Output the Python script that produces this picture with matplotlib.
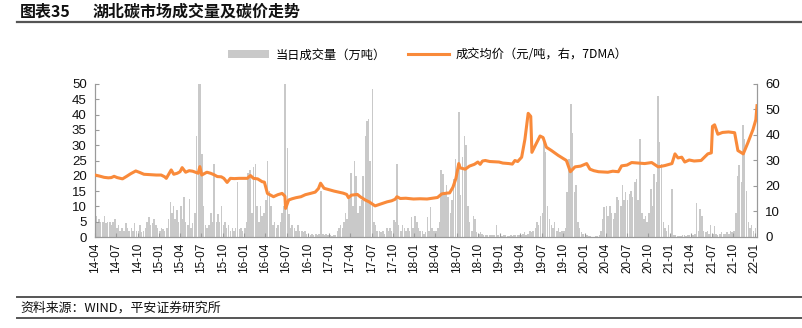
import matplotlib
matplotlib.use("Agg")
import matplotlib.pyplot as plt
from matplotlib.patches import Patch
from matplotlib.lines import Line2D
import numpy as np
import pandas as pd

plt.rcParams['font.family'] = ['Liberation Sans', 'Noto Sans CJK SC', 'DejaVu Sans']

# ---------------- data ----------------
title_label = "图表35"
title_text = "湖北碳市场成交量及碳价走势"
source_text = "资料来源：WIND，平安证券研究所"
legend_volume = "当日成交量（万吨）"
legend_price = "成交均价（元/吨，右，7DMA）"

# weekly traded volume (10k tonnes), 4 values per month, Apr 2014 - Jan 2022
vol_2014 = [7, 5, 6, 5,  5, 7, 4.5, 5,  5, 4, 5, 6,  3, 4, 2, 3,  2, 4.5, 3, 2,
            3, 2, 4.5, 2,  2, 4, 1.5, 2,  3, 5, 6.5, 4,  4.5, 6, 4, 3]
vol_2015 = [2, 3, 2.5, 2,  3, 6, 11.4, 8,  10, 6, 8.7, 5,  10, 6, 13, 5,  4, 12.5, 3, 4.5,
            8, 33, 60, 55,  27, 10, 4, 3,  4, 8, 5, 24,  5, 7.6, 5, 10,
            4, 5, 3, 4,  2, 3, 2, 3,  18, 2.5, 3, 2]
vol_2016 = [3, 5, 21, 21.8,  8, 22.9, 24, 10,  5, 10, 7, 8,  12, 25, 15, 10,  4, 5, 3, 4,
            5, 8, 10, 60,  29, 7.6, 3, 4,  3, 2, 4, 2,  2, 1.5, 2, 1,
            1, 0.8, 1, 0.5,  1, 0.5, 1, 15,  1, 0.5, 1, 0.5]
vol_2017 = [0.5, 0.3, 0.5, 0.5,  2, 3, 4, 3,  5, 8, 6, 12.5,  21, 10, 24.7, 20,
            8, 10, 12, 20,  33, 38, 38.7, 25,  48.5, 5, 4, 2,  2, 1.5, 2, 1,
            3, 2, 3, 2,  5.5, 5, 24, 4,  2, 4, 3, 2,  3, 2, 6.6, 3]
vol_2018 = [7, 5, 3, 2,  2, 1, 1.5, 6.5,  2, 9.9, 3, 2,  2, 3, 5, 22,  20.7, 14.7, 17, 13,
            8, 12, 19, 25.6,  20, 41, 13.6, 26,  33, 30, 10, 5,  2, 7, 6, 1.5,
            1, 1.5, 1, 0.8,  0.5, 0.8, 0.5, 0.5,  0.5, 0.5, 3.8, 0.5]
vol_2019 = [0.5, 0.3, 0.5, 0.5,  0.3, 0.2, 0.5, 0.3,  0.5, 0.5, 0.8, 0.5,  0.5, 1, 1.5, 0.8,
            1, 2, 1.5, 2,  3, 5, 4, 7,  8, 32, 27.8, 10,  6, 4, 3, 5,  2, 3, 1.5, 2,
            2, 3, 14.7, 25.6,  43.6, 34, 14.7, 17,  5, 3, 1.5, 1]
vol_2020 = [0.5, 0.5, 0.3, 0.2,  0.1, 0.1, 0.2, 0.3,  0.5, 2, 6, 9.8,  10, 7, 10, 8,
            6, 8, 13, 12,  10, 17, 12, 14.7,  12, 14, 15, 13,  18, 19, 12, 32,
            8, 6, 7, 5,  8, 15.8, 10, 20.7,  18, 46, 31, 24,  5, 3, 2, 4]
vol_2021 = [1, 15.8, 0.8, 0.5,  0.3, 0.2, 0.3, 0.5,  0.5, 0.3, 0.5, 0.5,  0.5, 0.8, 1, 11,
            2, 9.3, 7, 2,  1.5, 2, 1, 3.8,  1, 3.5, 1, 0.8,  1, 1.5, 1, 1,
            1.5, 1, 2, 1.5,  2, 8, 20, 23.4,  18, 36.5, 32, 15,  5, 3, 4, 2]
vol_2022 = [3, 4]

price_dates = [
    "2014-04-01", "2014-04-20", "2014-05-10", "2014-05-28", "2014-06-10", "2014-06-22",
    "2014-07-05", "2014-07-28", "2014-08-15", "2014-09-01", "2014-09-23", "2014-10-10",
    "2014-10-28", "2014-11-15", "2014-12-01", "2014-12-20", "2015-01-10", "2015-01-25",
    "2015-02-01", "2015-02-22", "2015-03-05", "2015-03-20", "2015-04-01", "2015-04-10",
    "2015-04-25", "2015-05-10", "2015-05-25", "2015-06-06", "2015-06-18", "2015-06-25",
    "2015-07-03", "2015-07-25", "2015-08-10", "2015-08-25", "2015-09-08", "2015-09-25",
    "2015-10-06", "2015-10-20", "2015-11-03", "2015-11-20", "2015-12-10", "2016-01-01",
    "2016-01-15", "2016-01-28", "2016-02-10", "2016-02-28", "2016-03-18", "2016-03-28",
    "2016-04-10", "2016-04-22", "2016-05-06", "2016-05-25", "2016-06-12", "2016-06-24",
    "2016-06-27", "2016-07-10", "2016-07-25", "2016-08-10", "2016-09-01", "2016-09-20",
    "2016-10-12", "2016-11-01", "2016-11-15", "2016-11-24", "2016-12-09", "2016-12-28",
    "2017-01-21", "2017-02-10", "2017-03-01", "2017-03-16", "2017-03-24", "2017-04-05",
    "2017-05-01", "2017-05-13", "2017-06-04", "2017-06-20", "2017-07-16", "2017-08-05",
    "2017-09-06", "2017-09-25", "2017-10-10", "2017-10-18", "2017-11-01", "2017-11-25",
    "2017-12-28", "2018-01-25", "2018-02-24", "2018-03-20", "2018-04-10", "2018-04-28",
    "2018-05-20", "2018-06-01", "2018-06-15", "2018-06-28", "2018-07-10", "2018-07-16",
    "2018-08-07", "2018-08-25", "2018-09-15", "2018-09-30", "2018-10-10", "2018-10-20",
    "2018-11-01", "2018-11-20", "2018-12-10", "2018-12-30", "2019-01-15", "2019-02-10",
    "2019-02-25", "2019-03-08", "2019-03-20", "2019-04-06", "2019-04-20", "2019-05-04",
    "2019-05-15", "2019-05-20", "2019-06-03", "2019-06-24", "2019-07-07", "2019-07-21",
    "2019-08-12", "2019-09-10", "2019-10-15", "2019-11-01", "2019-11-21", "2019-12-15",
    "2020-01-10", "2020-01-24", "2020-02-10", "2020-03-01", "2020-04-10", "2020-05-01",
    "2020-05-25", "2020-06-08", "2020-07-01", "2020-07-21", "2020-08-20", "2020-09-15",
    "2020-10-15", "2020-11-12", "2020-12-10", "2021-01-10", "2021-01-23", "2021-02-05",
    "2021-02-21", "2021-03-06", "2021-03-25", "2021-04-15", "2021-05-15", "2021-06-01",
    "2021-06-13", "2021-06-28", "2021-07-03", "2021-07-12", "2021-07-26", "2021-08-15",
    "2021-09-10", "2021-10-06", "2021-10-20", "2021-11-12", "2021-12-02", "2021-12-24",
    "2022-01-05", "2022-01-10",
]
price_values = [
    24.3, 23.9, 23.4, 23.2, 23.3, 23.8,
    23.3, 22.8, 23.8, 24.8, 25.9, 25.3,
    24.6, 24.5, 24.4, 24.3, 24.3, 23.6,
    23.0, 26.3, 24.6, 25.0, 25.6, 27.2,
    25.4, 26.0, 25.8, 25.4, 25.0, 27.6,
    24.3, 25.4, 25.0, 24.4, 23.7, 23.6,
    23.0, 21.4, 23.0, 22.9, 23.0, 23.0,
    23.0, 24.1, 23.0, 22.8, 21.7, 21.5,
    17.1, 16.5, 15.8, 16.6, 17.1, 16.0,
    11.2, 14.5, 15.0, 15.4, 15.8, 16.6,
    17.1, 17.6, 19.0, 21.1, 19.1, 18.6,
    18.0, 17.6, 17.2, 16.7, 15.4, 16.4,
    16.7, 15.8, 14.5, 13.8, 12.2, 12.8,
    13.8, 14.2, 14.8, 15.8, 15.1, 15.2,
    14.9, 15.0, 14.9, 15.2, 15.5, 16.9,
    17.2, 17.3, 19.5, 23.0, 28.8, 27.1,
    26.6, 27.8, 28.5, 29.4, 28.5, 29.8,
    30.0, 29.6, 29.5, 29.4, 29.0, 28.8,
    28.6, 30.0, 29.6, 31.3, 38.3, 48.5,
    47.3, 33.2, 35.8, 39.6, 39.0, 35.2,
    33.9, 32.0, 30.0, 25.6, 27.5, 27.8,
    28.8, 26.6, 26.0, 25.6, 25.4, 25.8,
    25.6, 27.9, 28.2, 29.2, 29.0, 28.8,
    29.2, 27.5, 28.0, 28.8, 32.6, 31.0,
    31.3, 29.4, 30.2, 29.8, 30.0, 31.5,
    32.6, 33.0, 43.4, 44.0, 40.3, 41.0,
    41.2, 40.9, 33.9, 32.6, 37.0, 42.2,
    46.0, 51.5,
]

vol_values = vol_2014 + vol_2015 + vol_2016 + vol_2017 + vol_2018 + vol_2019 + vol_2020 + vol_2021 + vol_2022

# bar positions: four weekly slots per month starting Apr 2014
months = pd.date_range("2014-04-01", periods=94, freq="MS")
vol_dates = [m + pd.Timedelta(days=d) for m in months for d in (0, 7, 14, 21)][:len(vol_values)]
price_dt = pd.to_datetime(price_dates)

# ---------------- figure ----------------
fig = plt.figure(figsize=(8.02, 3.28), dpi=100)
L, R, B, T = 95, 757, 237, 84
ax = fig.add_axes([L / 802, 1 - B / 328, (R - L) / 802, (B - T) / 328])
ax2 = ax.twinx()

grey = "#C9C9C9"
orange = "#F98A3A"
axis_col = "#9A9A9A"

ax.bar(vol_dates, vol_values, width=6.5, align="edge", color=grey, linewidth=0, zorder=1)
ax2.plot(price_dt, price_values, color=orange, linewidth=2.2, zorder=3)

ax.set_ylim(0, 50)
ax.set_yticks(np.arange(0, 51, 5))
ax2.set_ylim(0, 60)
ax2.set_yticks(np.arange(0, 61, 10))
ax.set_xlim(pd.Timestamp("2014-04-01"), pd.Timestamp("2022-01-10"))

xt = pd.date_range("2014-04-01", "2022-01-01", freq="3MS")
ax.set_xticks(xt)
ax.set_xticklabels([d.strftime("%y-%m") for d in xt], rotation=90, fontsize=8.5)

for a in (ax, ax2):
    a.spines["top"].set_visible(False)
    for s in ("left", "right", "bottom"):
        a.spines[s].set_color(axis_col)
        a.spines[s].set_linewidth(0.8)
    a.tick_params(direction="in", length=3, width=0.8, color=axis_col, labelsize=9.5, labelcolor="#111111")
ax.tick_params(axis="x", pad=4, labelsize=8.5)
ax.tick_params(axis="y", pad=6)
ax2.tick_params(axis="y", pad=6)

handles = [Patch(facecolor=grey, edgecolor="none"),
           Line2D([0], [0], color=orange, linewidth=2.2)]
fig.legend(handles, [legend_volume, legend_price], loc="center",
           bbox_to_anchor=(428 / 802, 1 - 55 / 328), ncol=2, frameon=False,
           handlelength=3.3, handleheight=0.6, columnspacing=1.8,
           handletextpad=0.6, prop={"family": ["Noto Sans CJK SC"], "size": 8.8})

# title and header rule
fig.text(20 / 802, 1 - 12 / 328, title_label, fontsize=11.5, fontweight="bold",
         family=["Noto Sans CJK SC"], va="center", ha="left", color="#111111")
fig.text(93 / 802, 1 - 12 / 328, title_text, fontsize=11.5, fontweight="bold",
         family=["Noto Sans CJK SC"], va="center", ha="left", color="#111111")
fig.add_artist(Line2D([17 / 802, 1.0], [1 - 22 / 328, 1 - 22 / 328], color="#555555", linewidth=1.6))

# footer
fig.add_artist(Line2D([17 / 802, 1.0], [1 - 297 / 328, 1 - 297 / 328], color="#555555", linewidth=1.4))
fig.text(20 / 802, 1 - 308 / 328, source_text, fontsize=9.3, family=["Noto Sans CJK SC"],
         va="center", ha="left", color="#111111")
fig.add_artist(Line2D([17 / 802, 1.0], [1 - 318 / 328, 1 - 318 / 328], color="#555555", linewidth=1.4))

fig.savefig("out.png", dpi=100)
